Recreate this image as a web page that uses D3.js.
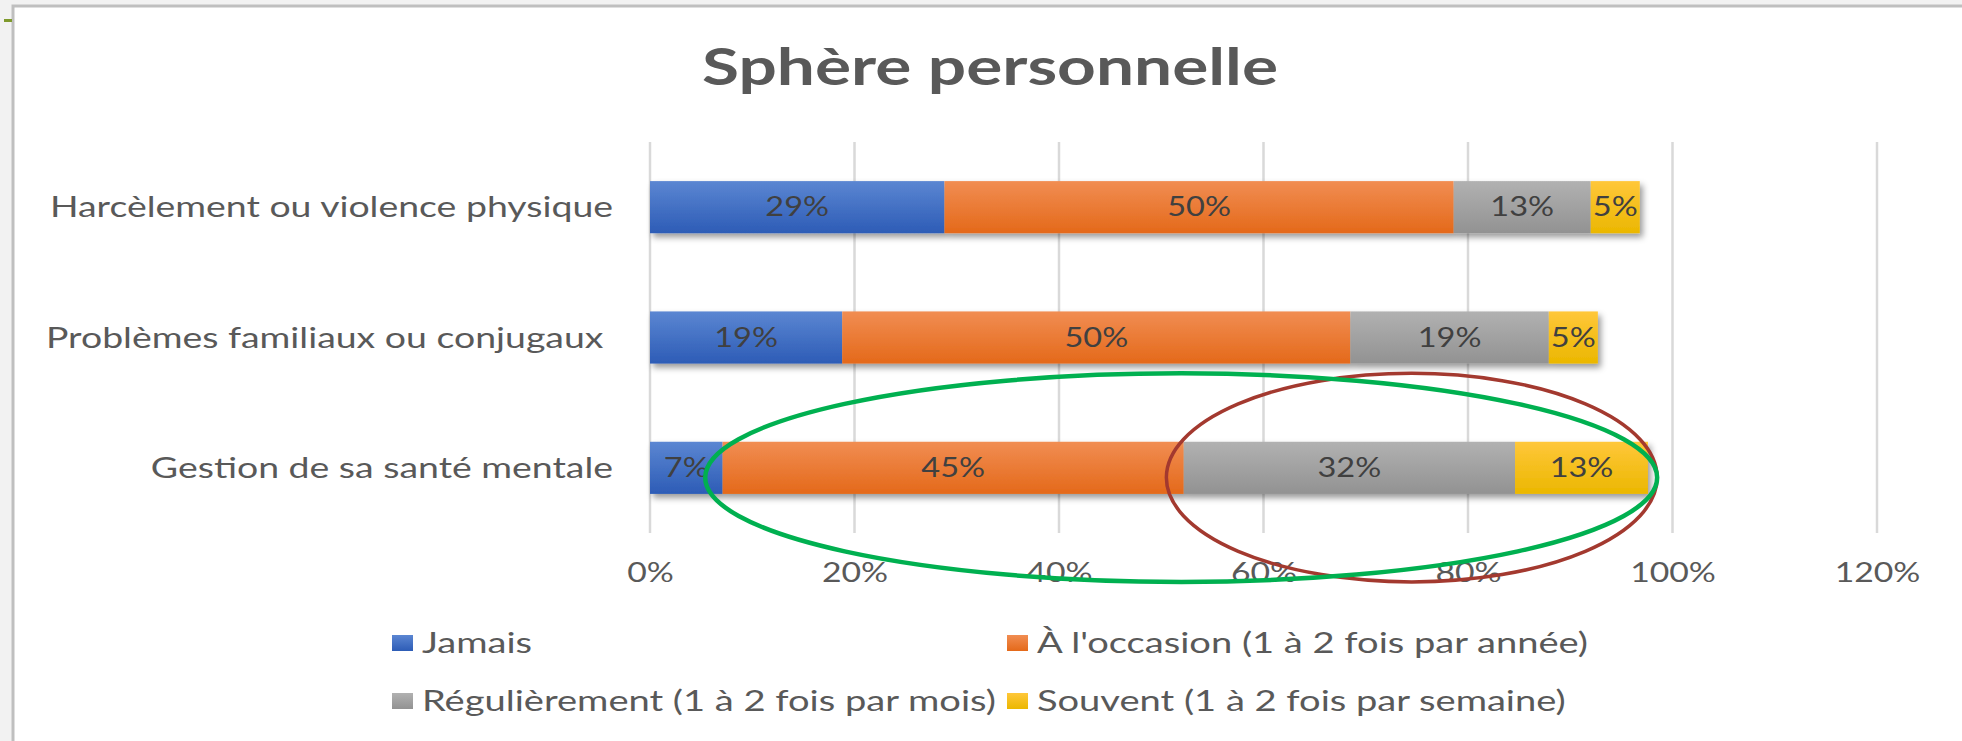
<!DOCTYPE html>
<html>
<head>
<meta charset="utf-8">
<script src="https://cdn.jsdelivr.net/npm/d3@7"></script>
<style>
    body { margin: 0; background: #f2f2f2; }
    text { font-family: Lato, "Open Sans", sans-serif; white-space: pre; }
</style>
</head>
<body>
<div id="chart"></div>
<script>
// data
const categories = ["Harcèlement ou violence physique", "Problèmes familiaux ou conjugaux ", "Gestion de sa santé mentale"];
const seriesNames = ["Jamais", "À l'occasion (1 à 2 fois par année)", "Régulièrement (1 à 2 fois par mois)", "Souvent (1 à 2 fois par semaine)"];
const jamais = [0.288, 0.188, 0.071];
const occasion = [0.498, 0.497, 0.451];
const regulierement = [0.134, 0.194, 0.324];
const souvent = [0.048, 0.048, 0.130];
const tickValues = [0, 0.2, 0.4, 0.6, 0.8, 1.0, 1.2];
const title = "Sphère personnelle";

// hand-drawn highlight ellipses on the last row (in axis units)
const highlights = [
    { from: 0.505, to: 0.985, color: "#a3392f", width: 3.5 },
    { from: 0.054, to: 0.985, color: "#00b050", width: 4.5 }
];

const svg = d3.select("#chart")
    .append("svg")
    .attr("width", 1962)
    .attr("height", 741);

// the source image is stretched sideways, so the text is too
const stretch = (sx) => `scale(${sx},1)`;

// frame of the chart area
svg.append("rect")
    .attr("x", 13).attr("y", 6)
    .attr("width", 2000).attr("height", 800)
    .attr("fill", "white")
    .attr("stroke", "#bfbfbf")
    .attr("stroke-width", 3);

svg.append("rect")
    .attr("x", 4).attr("y", 19).attr("width", 8).attr("height", 3)
    .attr("fill", "#7f9a2d");

const defs = svg.append("defs");
const gradStops = [["#5b86d2", "#2d5cb6"], ["#f18d52", "#e4691a"], ["#b1b1b1", "#929292"], ["#ffc73a", "#ebb700"]];
gradStops.forEach((c, i) => {
    const g = defs.append("linearGradient")
        .attr("id", "grad" + i)
        .attr("x1", 0).attr("y1", 0).attr("x2", 0).attr("y2", 1);
    g.append("stop").attr("offset", "0%").attr("stop-color", c[0]);
    g.append("stop").attr("offset", "100%").attr("stop-color", c[1]);
});

defs.append("filter")
    .attr("id", "shadow")
    .attr("x", "-10%").attr("y", "-30%").attr("width", "120%").attr("height", "180%")
    .append("feDropShadow")
    .attr("dx", 3).attr("dy", 4)
    .attr("stdDeviation", 3)
    .attr("flood-color", "#000")
    .attr("flood-opacity", 0.4);

const x = d3.scaleLinear().domain([0, 1.2]).range([650, 1877]);
const y = d3.scaleBand()
    .domain(categories)
    .range([142, 533])
    .paddingInner(0.6)
    .paddingOuter(0.3);

// title
svg.append("text")
    .attr("transform", `translate(990,85) ${stretch(1.3)}`)
    .attr("text-anchor", "middle")
    .attr("font-size", 52)
    .attr("font-weight", "bold")
    .attr("fill", "#595959")
    .text(title);

// gridlines
svg.append("g")
    .selectAll("line")
    .data(tickValues)
    .join("line")
    .attr("x1", d => x(d)).attr("x2", d => x(d))
    .attr("y1", 142).attr("y2", 533)
    .attr("stroke", "#d9d9d9")
    .attr("stroke-width", 2.5);

// x axis labels
const xAxis = svg.append("g")
    .attr("transform", "translate(0,573)")
    .call(d3.axisBottom(x).tickValues(tickValues).tickFormat(d3.format(".0%")).tickSize(0));
xAxis.select(".domain").remove();
xAxis.selectAll("text")
    .attr("y", 0)
    .attr("dy", "0.35em")
    .attr("transform", stretch(1.25))
    .attr("font-size", 27)
    .attr("fill", "#595959")
    .style("font-family", "Lato");

// category labels
const yAxis = svg.append("g")
    .attr("transform", "translate(613,0)")
    .call(d3.axisLeft(y).tickSize(0).tickPadding(0));
yAxis.select(".domain").remove();
yAxis.selectAll("text")
    .attr("x", 0)
    .attr("dy", "0.35em")
    .attr("transform", stretch(1.29))
    .attr("font-size", 29)
    .attr("fill", "#595959")
    .style("font-family", "Lato");

// stacked bars
const rows = categories.map((c, i) => ({
    cat: c,
    s0: jamais[i], s1: occasion[i], s2: regulierement[i], s3: souvent[i]
}));
const keys = ["s0", "s1", "s2", "s3"];
const stacked = d3.stack().keys(keys)(rows);

svg.append("g")
    .attr("filter", "url(#shadow)")
    .selectAll("g")
    .data(stacked)
    .join("g")
    .attr("fill", (d, i) => `url(#grad${i})`)
    .selectAll("rect")
    .data(d => d)
    .join("rect")
    .attr("x", d => x(d[0]))
    .attr("y", d => y(d.data.cat))
    .attr("width", d => x(d[1]) - x(d[0]))
    .attr("height", y.bandwidth());

// value labels
svg.append("g")
    .selectAll("g")
    .data(stacked)
    .join("g")
    .selectAll("text")
    .data(d => d.map(v => ({ v, key: d.key })))
    .join("text")
    .attr("transform", d => `translate(${(x(d.v[0]) + x(d.v[1])) / 2},${y(d.v.data.cat) + y.bandwidth() / 2}) ${stretch(1.25)}`)
    .attr("text-anchor", "middle")
    .attr("dy", "0.35em")
    .attr("font-size", 26)
    .attr("fill", "#404040")
    .text(d => Math.round(d.v.data[d.key] * 100) + "%");

// highlight ellipses
const last = categories[categories.length - 1];
svg.append("g")
    .selectAll("ellipse")
    .data(highlights)
    .join("ellipse")
    .attr("cx", d => (x(d.from) + x(d.to)) / 2)
    .attr("cy", y(last) + y.bandwidth() / 2 + y.step() * 0.075)
    .attr("rx", d => (x(d.to) - x(d.from)) / 2)
    .attr("ry", y.step() * 0.8)
    .attr("fill", "none")
    .attr("stroke", d => d.color)
    .attr("stroke-width", d => d.width);

// legend, two columns
const legend = svg.append("g")
    .selectAll("g")
    .data(seriesNames)
    .join("g")
    .attr("transform", (d, i) => `translate(${i % 2 ? 1007 : 392},${i < 2 ? 643 : 701})`);

legend.append("rect")
    .attr("x", 0)
    .attr("y", -8)
    .attr("width", 21)
    .attr("height", 16)
    .attr("fill", (d, i) => `url(#grad${i})`);

legend.append("text")
    .attr("transform", `translate(30,0) ${stretch(1.36)}`)
    .attr("dy", "0.35em")
    .attr("font-size", 28)
    .attr("fill", "#595959")
    .text(d => d);
</script>
</body>
</html>
